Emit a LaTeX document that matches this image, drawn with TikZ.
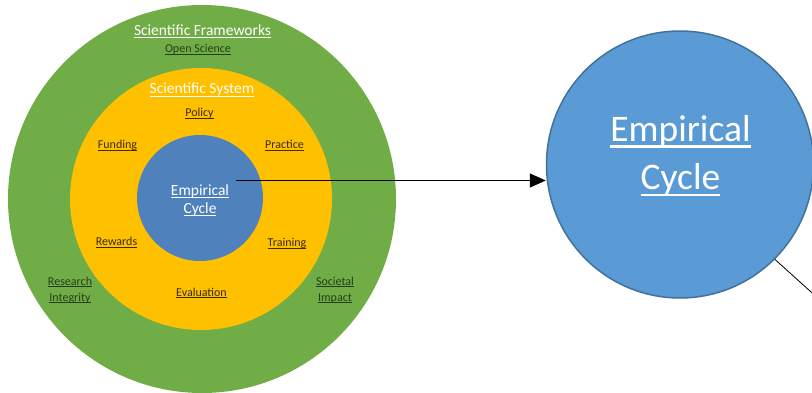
\documentclass[tikz,border=0pt]{standalone}
\usepackage{fontspec}
\setmainfont{Carlito}
\usepackage{tikz}
\usetikzlibrary{positioning,arrows.meta}
\definecolor{ringgreen}{HTML}{70AD47}
\definecolor{ringyellow}{HTML}{FFC000}
\definecolor{coreblue}{HTML}{4F81BD}
\definecolor{bigblue}{HTML}{5B9BD5}
\definecolor{bigedge}{HTML}{41719C}
\definecolor{greentext}{HTML}{263D19}
\definecolor{yellowtext}{HTML}{3A2C00}
\newcommand{\Uline}[1]{\setbox0\hbox{#1}\rlap{\vrule height -0.1em depth 0.17em width \wd0}\box0}

\begin{document}
\begin{tikzpicture}[x=1pt,y=-1pt]
\tikzstyle{ring}=[circle, inner sep=0pt, draw=none]
\tikzstyle{head}=[font=\fontsize{15.5}{18}\selectfont, text=white, anchor=base, inner sep=0pt]
\tikzstyle{green lab}=[font=\fontsize{12}{16}\selectfont, text=greentext, anchor=base, inner sep=0pt, align=center]
\tikzstyle{yellow lab}=[font=\fontsize{12}{16}\selectfont, text=yellowtext, anchor=base, inner sep=0pt]
\tikzstyle{connect}=[-{Triangle[length=16pt,width=14pt]}, line width=1pt]
\useasboundingbox (0,0) rectangle (812,393);

	\node[ring, fill=ringgreen, minimum size=388pt] (frame) at (202,199) {};
	\node[ring, fill=ringyellow, minimum size=262pt] (system) at (201,199) {};
	\node[ring, fill=coreblue, minimum size=126pt] (core) at (200,198) {};
	\node[ring, fill=bigblue, draw=bigedge, line width=1.5pt, minimum size=267pt] (big) at (680,164.5) {};

	\node[head] (t_frame) at (202.5,35.5) {\Uline{Scientific Frameworks}};
	\node[green lab] (open) at (198,52.5) {\Uline{Open Science}};
	\node[green lab] (integ) at (70,301) {\Uline{Research}\\\Uline{Integrity}};
	\node[green lab] (impact) at (335,301) {\Uline{Societal}\\\Uline{Impact}};

	\node[head] (t_system) at (202,94) {\Uline{Scientific System}};
	\node[yellow lab] (policy) at (199.5,116.5) {\Uline{Policy}};
	\node[yellow lab] (funding) at (117.5,149) {\Uline{Funding}};
	\node[yellow lab] (practice) at (284.5,149) {\Uline{Practice}};
	\node[yellow lab] (rewards) at (116.5,245.5) {\Uline{Rewards}};
	\node[yellow lab] (training) at (287,247) {\Uline{Training}};
	\node[yellow lab] (eval) at (201.5,296) {\Uline{Evaluation}};

	\node[head, align=center] (t_core) at (200,213.5) {\Uline{Empirical}\\\Uline{Cycle}};
	\node[head, align=center, font=\fontsize{37.5}{48.5}\selectfont] (t_big) at (680.5,190) {\Uline{Empirical}\\\Uline{Cycle}};

	\coordinate (from) at (236,180.5);
	\coordinate (away) at (850,327);

	\path
		(from) edge [connect] (from -| big.west)
		(big.-45) edge [line width=0.8pt] (away);

\end{tikzpicture}
\end{document}
